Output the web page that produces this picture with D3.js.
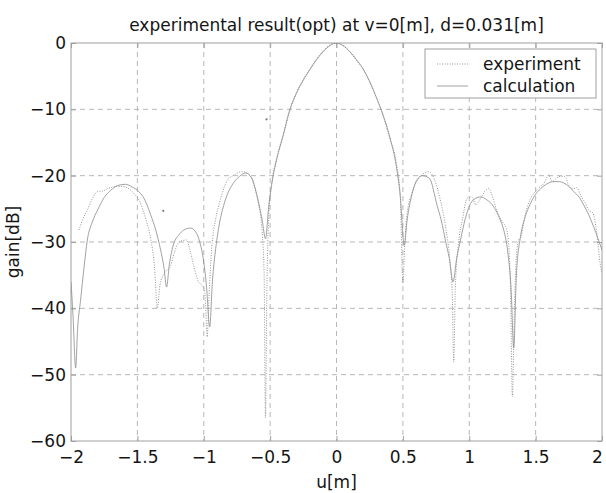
<!DOCTYPE html>
<html><head><meta charset="utf-8">
<script src="https://cdn.jsdelivr.net/npm/d3@7"></script>
<style>body{margin:0;background:#fff}svg{display:block}</style>
</head><body>
<script>
const titleText = "experimental result(opt) at v=0[m], d=0.031[m]";
const xLabel = "u[m]";
const yLabel = "gain[dB]";
const seriesNames = ["experiment", "calculation"];
const xTicks = [-2, -1.5, -1, -0.5, 0, 0.5, 1, 1.5, 2];
const yTicks = [0, -10, -20, -30, -40, -50, -60];

const uCalc = [-2.00,-1.985,-1.965,-1.95,-1.928,-1.90,-1.877,-1.84,-1.80,-1.75,-1.70,-1.65,-1.589,-1.54,-1.489,-1.44,-1.40,-1.36,-1.325,-1.30,-1.28,-1.26,-1.23,-1.19,-1.15,-1.10,-1.06,-1.03,-1.00,-0.98,-0.955,-0.935,-0.91,-0.88,-0.85,-0.82,-0.78,-0.73,-0.685,-0.64,-0.597,-0.56,-0.535,-0.51,-0.477,-0.45,-0.40,-0.359,-0.30,-0.25,-0.20,-0.15,-0.10,-0.05,0,0.05,0.10,0.15,0.206,0.25,0.306,0.35,0.407,0.45,0.48,0.51,0.532,0.57,0.607,0.645,0.70,0.758,0.79,0.82,0.85,0.878,0.905,0.934,0.97,1.01,1.05,1.084,1.13,1.185,1.23,1.26,1.29,1.315,1.335,1.355,1.386,1.42,1.461,1.50,1.536,1.58,1.636,1.68,1.711,1.75,1.787,1.83,1.862,1.90,1.937,1.97,2.00];
const gCalc = [-36,-41,-49,-43,-38.8,-33.5,-29.7,-27,-25.2,-23.3,-22.2,-21.5,-21.3,-21.7,-22.4,-23.8,-25.9,-28.3,-31.2,-33.8,-36.8,-33.5,-30.5,-29,-28.2,-27.9,-28.5,-30,-33,-36.5,-42.8,-36,-31,-27,-24.5,-22.7,-21.2,-20.1,-19.6,-20.3,-23.2,-26.7,-29.5,-24.5,-20,-17.5,-13.8,-10.5,-7.5,-5.6,-4.0,-2.5,-1.3,-0.4,0,-0.4,-1.3,-2.5,-4.1,-5.8,-8.5,-10.8,-14.6,-18.5,-23,-30.5,-26.7,-22.7,-20.6,-20.0,-20.4,-24.5,-26.8,-29.7,-32.5,-36,-32.5,-29.7,-26.5,-24.2,-23.4,-23.2,-23.6,-24.7,-26.5,-28.2,-31.5,-37,-46,-35,-29.2,-26.3,-24.2,-22.8,-22.0,-21.3,-20.9,-20.9,-21.1,-21.6,-22.4,-23.3,-24.4,-25.9,-27.7,-29.5,-31.2];

const uExp = [-1.94,-1.91,-1.877,-1.84,-1.80,-1.76,-1.727,-1.68,-1.627,-1.58,-1.53,-1.48,-1.44,-1.40,-1.37,-1.35,-1.33,-1.30,-1.25,-1.22,-1.187,-1.16,-1.13,-1.10,-1.074,-1.04,-1.01,-0.994,-0.985,-0.974,-0.96,-0.94,-0.91,-0.88,-0.85,-0.823,-0.78,-0.71,-0.66,-0.62,-0.59,-0.56,-0.545,-0.535,-0.525,-0.51,-0.49,-0.45,-0.40,-0.35,-0.30,-0.25,-0.20,-0.15,-0.10,-0.05,0,0.05,0.10,0.15,0.20,0.25,0.30,0.35,0.40,0.45,0.48,0.50,0.515,0.53,0.57,0.62,0.695,0.74,0.78,0.82,0.855,0.872,0.883,0.895,0.92,0.95,0.984,1.02,1.05,1.08,1.12,1.147,1.18,1.21,1.25,1.27,1.29,1.31,1.325,1.34,1.36,1.373,1.39,1.42,1.46,1.486,1.52,1.561,1.599,1.625,1.65,1.686,1.72,1.75,1.78,1.81,1.84,1.87,1.90,1.93,1.96,1.988,2.00];
const gExp = [-28.2,-26.5,-25.2,-23.5,-22.4,-22.3,-22.0,-21.7,-21.6,-21.8,-22.6,-24,-26.3,-29.5,-34,-40,-36.5,-34.8,-33.6,-31.5,-30,-29.8,-29.7,-31.5,-33.7,-36,-36.6,-37.2,-40,-44.3,-38,-31,-26.5,-24,-22,-20.7,-20,-19.4,-19.8,-21.5,-24,-28.5,-35,-56.5,-38,-26,-21.5,-17.3,-13.8,-10.2,-7.4,-5.5,-3.9,-2.4,-1.2,-0.3,0,-0.4,-1.3,-2.6,-3.9,-5.9,-8.2,-10.9,-14.3,-18,-23,-36.2,-30,-26,-22.5,-20.4,-19.4,-20.7,-23.5,-27.5,-33,-38,-48.1,-37,-30,-26.5,-23.4,-23.2,-24.4,-23.6,-22.3,-21.9,-23.5,-25.4,-27.0,-27.5,-29,-36,-53.3,-40,-31,-29.7,-29.2,-26,-23.5,-22.7,-21.9,-21.2,-19.9,-20.9,-20.5,-20.1,-20.1,-21.5,-22,-21.8,-23,-24,-25.2,-25.6,-28.5,-33.5,-34.7];

// isolated stray experiment samples
const uStray = [-1.305, -0.527];
const gStray = [-25.3, -11.5];

const W = 606, H = 493;
const L = 71, R = 602, T = 43, B = 441;
const font = "'DejaVu Sans', sans-serif";
const lineCol = "#8a8a8a", gridCol = "#b0b0b0", frameCol = "#a0a0a0", textCol = "#151515";

const svg = d3.select("body").append("svg").attr("width", W).attr("height", H)
  .style("font-family", font);

const x = d3.scaleLinear().domain([-2, 2]).range([L, R]);
const y = d3.scaleLinear().domain([-60, 0]).range([B, T]);

const g = svg.append("g");
g.selectAll(".vg").data(xTicks.slice(1, -1)).join("line")
  .attr("x1", d => x(d)).attr("x2", d => x(d)).attr("y1", T).attr("y2", B)
  .attr("stroke", gridCol).attr("stroke-width", 0.9).attr("stroke-dasharray", "5,4");
g.selectAll(".hg").data(yTicks.slice(1, -1)).join("line")
  .attr("y1", d => y(d)).attr("y2", d => y(d)).attr("x1", L).attr("x2", R)
  .attr("stroke", gridCol).attr("stroke-width", 0.9).attr("stroke-dasharray", "5,4");

const fmt = d => d3.format("")(d).replace("-", "\u2212");
const xAxis = d3.axisBottom(x).tickValues(xTicks).tickSizeInner(-5).tickSizeOuter(0)
  .tickFormat(fmt).tickPadding(10);
const yAxis = d3.axisLeft(y).tickValues(yTicks).tickSizeInner(-5).tickSizeOuter(0)
  .tickFormat(fmt).tickPadding(5);

const gx = svg.append("g").attr("transform", `translate(0,${B})`).call(xAxis);
const gy = svg.append("g").attr("transform", `translate(${L},0)`).call(yAxis);
[gx, gy].forEach(a => {
  a.select(".domain").remove();
  a.selectAll(".tick line").attr("stroke", frameCol);
  a.selectAll(".tick text").attr("fill", textCol).style("font-size", "17px").style("font-family", font);
});
// keep the last x label inside the picture
gx.selectAll(".tick text").filter(d => d === 2).attr("dx", "-5");

svg.append("g").attr("transform", `translate(0,${T})`)
  .call(d3.axisTop(x).tickValues(xTicks).tickSizeInner(-5).tickSizeOuter(0).tickFormat(""))
  .call(a => { a.select(".domain").remove(); a.selectAll("line").attr("stroke", frameCol); });
svg.append("g").attr("transform", `translate(${R},0)`)
  .call(d3.axisRight(y).tickValues(yTicks).tickSizeInner(-5).tickSizeOuter(0).tickFormat(""))
  .call(a => { a.select(".domain").remove(); a.selectAll("line").attr("stroke", frameCol); });

svg.append("rect").attr("x", L).attr("y", T).attr("width", R - L).attr("height", B - T)
  .attr("fill", "none").attr("stroke", frameCol).attr("stroke-width", 1);

svg.append("clipPath").attr("id", "clip").append("rect")
  .attr("x", L).attr("y", T).attr("width", R - L).attr("height", B - T);

const line = d3.line().x(d => x(d[0])).y(d => y(d[1])).curve(d3.curveMonotoneX);
const calc = uCalc.map((u, i) => [u, gCalc[i]]);
const exp = uExp.map((u, i) => [u, gExp[i]]);

svg.append("path").attr("clip-path", "url(#clip)").attr("d", line(calc))
  .attr("fill", "none").attr("stroke", lineCol).attr("stroke-width", 0.8);
svg.append("path").attr("clip-path", "url(#clip)").attr("d", line(exp))
  .attr("fill", "none").attr("stroke", lineCol).attr("stroke-width", 0.9).attr("stroke-dasharray", "1,1.5");
svg.selectAll(".stray").data(uStray).join("circle")
  .attr("cx", d => x(d)).attr("cy", (d, i) => y(gStray[i])).attr("r", 1.1).attr("fill", "#777");

svg.append("text").attr("x", (L + R) / 2).attr("y", 31).attr("text-anchor", "middle")
  .attr("fill", textCol).style("font-size", "17px").text(titleText);
svg.append("text").attr("x", (L + R) / 2).attr("y", 488).attr("text-anchor", "middle")
  .attr("fill", textCol).style("font-size", "17px").text(xLabel);
svg.append("text").attr("transform", `translate(19,${(T + B) / 2}) rotate(-90)`).attr("text-anchor", "middle")
  .attr("fill", textCol).style("font-size", "17px").text(yLabel);

const lg = svg.append("g");
lg.append("rect").attr("x", 425).attr("y", 49).attr("width", 171).attr("height", 49)
  .attr("fill", "#fff").attr("stroke", frameCol).attr("stroke-width", 1);
const legY = [64, 86];
lg.selectAll(".ll").data(seriesNames).join("line")
  .attr("x1", 437).attr("x2", 468).attr("y1", (d, i) => legY[i]).attr("y2", (d, i) => legY[i])
  .attr("stroke", lineCol).attr("stroke-width", (d, i) => i === 0 ? 0.9 : 0.8)
  .attr("stroke-dasharray", (d, i) => i === 0 ? "1,1.5" : null);
lg.selectAll(".lt").data(seriesNames).join("text")
  .attr("x", 483).attr("y", (d, i) => legY[i]).attr("dy", "0.35em")
  .attr("fill", textCol).style("font-size", "17px").text(d => d);
</script>
</body></html>
